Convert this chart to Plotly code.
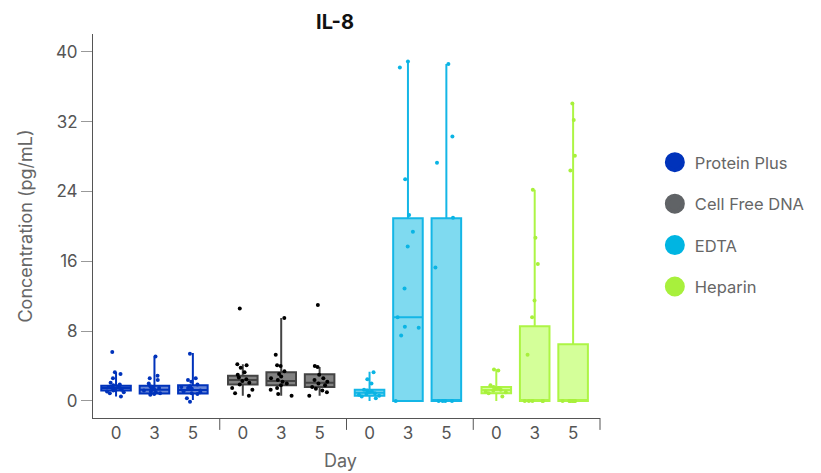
import plotly.graph_objects as go
from plotly.subplots import make_subplots

# ---------------- data ----------------
groups = ["Protein Plus", "Cell Free DNA", "EDTA", "Heparin"]
days = ["0", "3", "5"]

# sample values (pg/mL) per group and day
pp_d0 = [5.6, 3.3, 3.1, 2.6, 2.1, 1.9, 1.8, 1.7, 1.6, 1.5, 1.5, 1.4, 1.3, 1.2, 1.1, 1.0, 0.9, 0.5]
pp_d3 = [5.1, 2.9, 2.6, 2.4, 2.0, 1.7, 1.6, 1.5, 1.4, 1.3, 1.2, 1.1, 1.0, 0.9, 0.8, 0.7]
pp_d5 = [5.4, 2.6, 2.4, 2.2, 1.9, 1.7, 1.6, 1.5, 1.4, 1.2, 1.1, 1.0, 0.9, 0.8, 0.3, -0.1]

cfd_d0 = [10.6, 4.2, 4.1, 3.8, 3.3, 3.0, 2.7, 2.5, 2.3, 2.1, 1.9, 1.5, 1.3, 0.9, 0.6]
cfd_d3 = [9.5, 5.3, 4.1, 4.0, 3.4, 3.1, 2.8, 2.6, 2.4, 2.2, 2.0, 1.8, 1.5, 1.3, 0.8, 0.6]
cfd_d5 = [11.0, 4.0, 3.9, 3.0, 2.6, 2.4, 2.2, 2.0, 1.8, 1.6, 1.4, 1.2, 1.0, 0.6]

ed_d0 = [3.3, 2.5, 2.0, 1.3, 1.2, 1.1, 1.0, 0.9, 0.8, 0.7, 0.6, 0.5, 0.3]
ed_d3 = [38.9, 38.2, 25.4, 21.3, 19.4, 17.7, 12.9, 9.6, 8.5, 8.4, 7.5, 0.0]
ed_d5 = [38.6, 30.3, 27.3, 21.0, 15.3, 0.0, 0.0, 0.0, 0.0]

hp_d0 = [3.6, 3.5, 1.8, 1.6, 1.5, 1.4, 1.3, 1.2, 1.1, 1.0, 0.9, 0.5]
hp_d3 = [24.2, 18.7, 15.7, 11.5, 9.6, 5.3, 0.0, 0.0, 0.0, 0.0, 0.0]
hp_d5 = [34.1, 32.2, 28.1, 26.4, 0.0, 0.0, 0.0, 0.0, 0.0, 0.0, 0.0, 0.0]

samples = {
    "Protein Plus": [pp_d0, pp_d3, pp_d5],
    "Cell Free DNA": [cfd_d0, cfd_d3, cfd_d5],
    "EDTA": [ed_d0, ed_d3, ed_d5],
    "Heparin": [hp_d0, hp_d3, hp_d5],
}

# box statistics per group (day 0, 3, 5)
q1 = {
    "Protein Plus": [1.2, 0.85, 0.85],
    "Cell Free DNA": [1.9, 1.8, 1.6],
    "EDTA": [0.6, 0.0, 0.0],
    "Heparin": [0.9, 0.0, 0.0],
}
median = {
    "Protein Plus": [1.5, 1.3, 1.25],
    "Cell Free DNA": [2.4, 2.3, 2.1],
    "EDTA": [0.95, 9.6, 0.0],
    "Heparin": [1.25, 0.0, 0.0],
}
q3 = {
    "Protein Plus": [1.75, 1.75, 1.8],
    "Cell Free DNA": [2.9, 3.3, 3.05],
    "EDTA": [1.3, 20.95, 20.95],
    "Heparin": [1.6, 8.55, 6.5],
}
lowerfence = {
    "Protein Plus": [0.5, 0.7, 0.1],
    "Cell Free DNA": [0.6, 0.6, 0.6],
    "EDTA": [0.0, 0.0, 0.0],
    "Heparin": [0.0, 0.0, 0.0],
}
upperfence = {
    "Protein Plus": [3.3, 5.1, 5.5],
    "Cell Free DNA": [4.2, 9.5, 3.9],
    "EDTA": [3.35, 38.9, 38.6],
    "Heparin": [3.65, 24.2, 34.1],
}

y_ticks = [0, 8, 16, 24, 32, 40]

# ---------------- styles ----------------
line_col = {"Protein Plus": "#0033BB", "Cell Free DNA": "#444444",
            "EDTA": "#14B6E6", "Heparin": "#ADF545"}
fill_col = {"Protein Plus": "rgba(0,51,187,0.6)", "Cell Free DNA": "rgba(77,77,77,0.7)",
            "EDTA": "rgba(0,181,226,0.5)", "Heparin": "rgba(170,255,51,0.5)"}
pt_col = {"Protein Plus": "#0033BB", "Cell Free DNA": "#000000",
          "EDTA": "#0AB4E4", "Heparin": "#A8F03C"}
legend_col = {"Protein Plus": "#0033BB", "Cell Free DNA": "#606366",
              "EDTA": "#00B5E2", "Heparin": "#A8F03C"}

FONT = "Inter, Roboto, sans-serif"
AX = "#555555"

# page has an 8px body margin: figure is 813x465 drawn at (8, 8)
W, H = 813, 465

fig = make_subplots(rows=1, cols=4, shared_yaxes=True, horizontal_spacing=0)

for gi, g in enumerate(groups):
    col = gi + 1
    fig.add_trace(go.Box(
        x=days, q1=q1[g], median=median[g], q3=q3[g],
        lowerfence=lowerfence[g], upperfence=upperfence[g],
        width=0.77, whiskerwidth=0, boxpoints=False,
        fillcolor=fill_col[g], line=dict(color=line_col[g], width=2),
        showlegend=False, hoverinfo="skip",
    ), row=1, col=col)
    xs, ys = [], []
    for d, vals in zip(days, samples[g]):
        xs += [d] * len(vals)
        ys += vals
    fig.add_trace(go.Box(
        x=xs, y=ys, width=0.77, whiskerwidth=0, boxpoints="all", jitter=0.85, pointpos=0,
        fillcolor="rgba(0,0,0,0)", line=dict(color="rgba(0,0,0,0)", width=0),
        marker=dict(color=pt_col[g], size=4),
        showlegend=False,
    ), row=1, col=col)
    # legend entry
    fig.add_trace(go.Scatter(
        x=[None], y=[None], mode="markers", name=g, legendgroup=g,
        marker=dict(color=legend_col[g], size=16, line=dict(color=legend_col[g], width=4)),
    ), row=1, col=1)

for i in range(1, 5):
    fig.update_xaxes(
        type="category", categoryorder="array", categoryarray=days,
        range=[-0.6, 2.7], showline=True, linecolor=AX, linewidth=1,
        ticks="", showgrid=False, zeroline=False,
        tickfont=dict(family=FONT, size=17, color=AX), row=1, col=i,
    )
    fig.update_yaxes(range=[-1.95, 42.05], showgrid=False, zeroline=False, row=1, col=i)

fig.update_yaxes(
    showline=True, linecolor=AX, linewidth=1,
    tickmode="array", tickvals=y_ticks, ticktext=[str(v) for v in y_ticks],
    ticks="outside", ticklen=11, tickcolor="#999999",
    tickfont=dict(family=FONT, size=17, color=AX),
    title=dict(text="Concentration (pg/mL)", font=dict(family=FONT, size=18, color="#666666"),
               standoff=18),
    row=1, col=1,
)

# group dividers below the axis
shapes = []
for xr in ["x domain", "x2 domain", "x3 domain", "x4 domain"]:
    shapes.append(dict(type="line", xref=xr, yref="paper", x0=1, x1=1, y0=0, y1=-0.031,
                       line=dict(color=AX, width=1)))

fig.update_layout(
    width=W, height=H,
    margin=dict(l=85, r=220, t=26, b=55),
    paper_bgcolor="white", plot_bgcolor="white",
    boxmode="overlay",
    shapes=shapes,
    title=dict(text="<b>IL-8</b>", x=327 / W, xanchor="center", xref="container",
               y=1 - 14 / H, yanchor="middle", yref="container",
               font=dict(family=FONT, size=20, color="#111111")),
    annotations=[dict(text="Day", xref="paper", yref="paper", x=0.489, y=-0.11,
                      xanchor="center", yanchor="middle", showarrow=False,
                      font=dict(family=FONT, size=18, color="#666666"))],
    legend=dict(x=1.106, xanchor="left", y=0.504, yanchor="middle",
                font=dict(family=FONT, size=16.5, color="#666666"),
                tracegroupgap=17, traceorder="grouped"),
    showlegend=True,
)

fig.write_html("out.html")
